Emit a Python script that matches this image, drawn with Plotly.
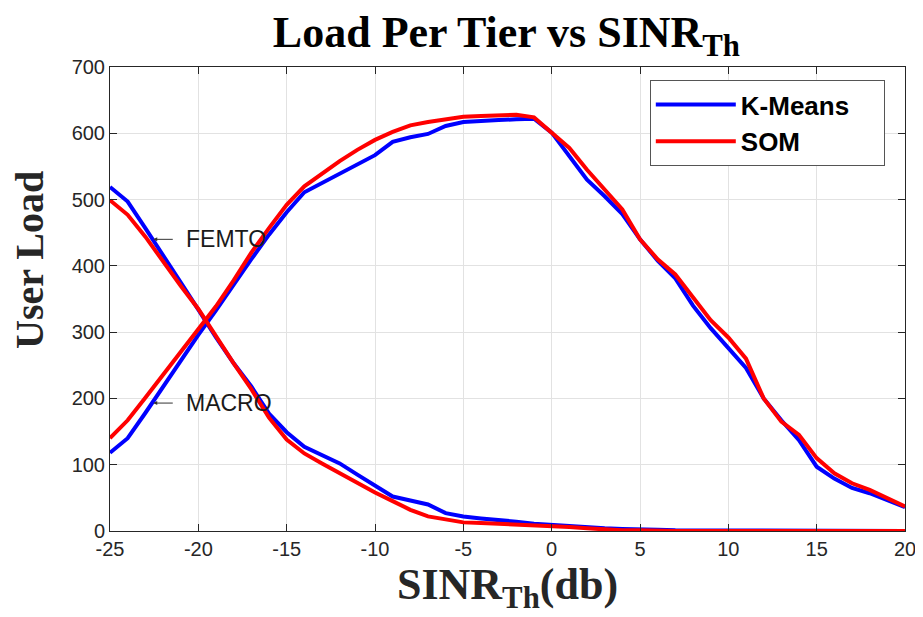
import plotly.graph_objects as go

sinr = list(range(-25, 21))

# K-Means
km_femto = [118, 140, 178, 218, 256, 296, 333, 372, 410, 447, 481, 511, 525, 538, 553, 567,
            587, 594, 599, 611, 617, 619, 620, 621, 622, 601, 566, 530, 505, 478, 440, 408,
            381, 340, 306, 276, 246, 200, 167, 137, 97, 79, 65, 57, 47, 36]
km_macro = [519, 497, 457, 415, 375, 334, 292, 253, 218, 177, 149, 127, 115, 102, 85, 69,
            52, 46, 40, 27, 22, 19, 17, 14, 11, 9, 7, 6, 4, 3, 3, 2,
            1, 1, 1, 0, 0, 0, 0, 0, 0, 0, 0, 0, 0, 0]

# SOM
som_femto = [140, 167, 201, 235, 269, 303, 339, 378, 420, 457, 492, 520, 539, 558, 575, 590,
             602, 612, 617, 621, 625, 626, 627, 628, 624, 601, 578, 545, 515, 485, 440, 410,
             387, 352, 318, 292, 260, 200, 165, 145, 110, 87, 72, 62, 50, 37]
som_macro = [499, 477, 444, 406, 370, 335, 293, 253, 214, 171, 138, 117, 102, 87, 72, 58,
             45, 32, 22, 18, 13, 12, 11, 10, 9, 8, 6, 4, 2, 1, 1, 0,
             0, 0, 0, 0, 0, 0, 0, 0, 0, 0, 0, 0, 0, 0]

x_ticks = [-25, -20, -15, -10, -5, 0, 5, 10, 15, 20]
y_ticks = [0, 100, 200, 300, 400, 500, 600, 700]

blue = '#0000ff'
red = '#ff0000'
pad = '\u00a0\u00a0\u00a0\u00a0'  # room on the right of the legend text, like the original box

fig = go.Figure()
fig.add_trace(go.Scatter(x=sinr, y=km_femto, mode='lines', name='K-Means' + pad,
                         line=dict(color=blue, width=4), legendgroup='km'))
fig.add_trace(go.Scatter(x=sinr, y=km_macro, mode='lines', name='K-Means',
                         line=dict(color=blue, width=4), legendgroup='km', showlegend=False))
fig.add_trace(go.Scatter(x=sinr, y=som_femto, mode='lines', name='SOM',
                         line=dict(color=red, width=4), legendgroup='som'))
fig.add_trace(go.Scatter(x=sinr, y=som_macro, mode='lines', name='SOM',
                         line=dict(color=red, width=4), legendgroup='som', showlegend=False))

label_font = dict(family='Liberation Sans, Arial', size=23, color='#1a1a1a')
for lbl, yv in [('FEMTO', 440), ('MACRO', 193)]:
    # thin left arrow, then the label
    fig.add_annotation(x=-22.55, y=yv, ax=21, ay=0, text='', showarrow=True,
                       arrowhead=2, arrowsize=0.8, arrowwidth=1, arrowcolor='#333333')
    fig.add_annotation(x=-20.8, y=yv, text=lbl, showarrow=False,
                       xanchor='left', yanchor='middle', font=label_font)

# y axis title sits a bit above the middle in the original
fig.add_annotation(x=-0.102, y=0.584, xref='paper', yref='paper', text='<b>User Load</b>',
                   textangle=-90, showarrow=False, xanchor='center', yanchor='middle',
                   font=dict(family='Liberation Serif, Times New Roman', size=40, color='#262626'))

axis_common = dict(
    showline=True, linecolor='#262626', linewidth=1, mirror='ticks',
    ticks='inside', ticklen=7, tickcolor='#262626',
    showgrid=True, gridcolor='#e2e2e2', gridwidth=1, zeroline=False,
    automargin=False,
    tickfont=dict(family='Liberation Sans, Arial', size=20, color='#262626'),
)

fig.update_layout(
    width=923, height=617,
    margin=dict(l=102, r=26, t=59, b=94),
    paper_bgcolor='white', plot_bgcolor='white',
    title=dict(text='<b>Load Per Tier vs SINR<sub>Th</sub></b>',
               x=0.54, xanchor='center', y=0.987, yanchor='top',
               font=dict(family='Liberation Serif, Times New Roman', size=44, color='black')),
    xaxis=dict(range=[-25, 20], tickvals=x_ticks, ticktext=[str(v) for v in x_ticks],
               title=dict(text='<b>SINR<sub>Th</sub>(db)</b>', standoff=4,
                          font=dict(family='Liberation Serif, Times New Roman', size=44, color='#262626')),
               **axis_common),
    yaxis=dict(range=[0, 700], tickvals=y_ticks, ticktext=[str(v) for v in y_ticks],
               **axis_common),
    legend=dict(x=0.679, y=0.972, xanchor='left', yanchor='top',
                bgcolor='white', bordercolor='#555555', borderwidth=1,
                font=dict(family='Liberation Sans, Arial', size=26, color='black', weight='bold'),
                itemwidth=80, tracegroupgap=0),
    showlegend=True,
)

fig.write_html("out.html")
